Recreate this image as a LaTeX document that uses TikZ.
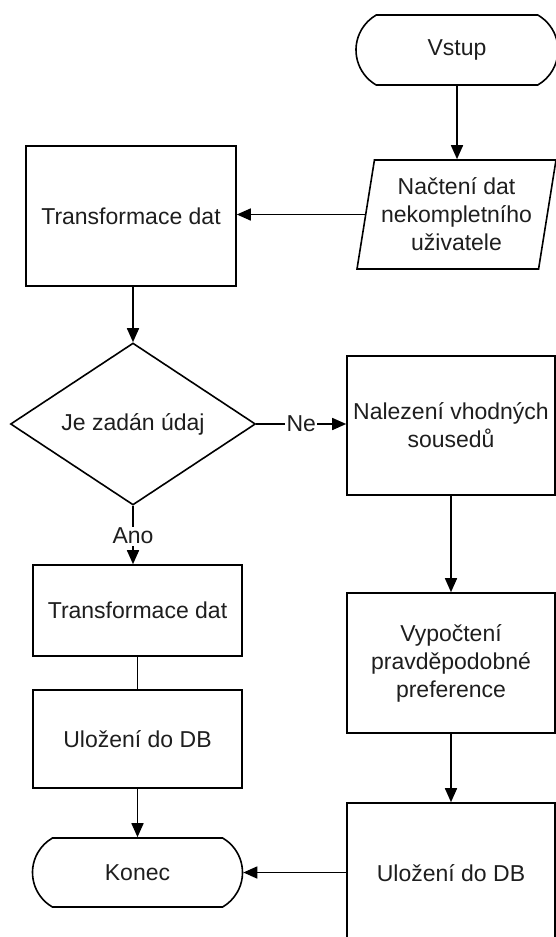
\documentclass[tikz,border=0pt]{standalone}
\usepackage{fontspec}
\setmainfont{Liberation Sans}
\usetikzlibrary{shapes.geometric,shapes.misc,arrows.meta}
\definecolor{txt}{HTML}{1E1E1E}
\begin{document}
\begin{tikzpicture}[x=1pt,y=-1pt,
  font=\fontsize{23}{28}\selectfont,
  line width=1.6pt,
  >={Triangle[length=14pt,width=12pt]},
  box/.style={draw, rectangle, inner sep=0pt, align=center, text=txt},
  term/.style={draw, rounded rectangle, rounded rectangle arc length=120, inner sep=0pt, text=txt},
  para/.style={draw, trapezium, trapezium left angle=76.6, trapezium right angle=103.4,
    trapezium stretches body, inner sep=0pt, align=center, text=txt},
  decision/.style={draw, diamond, inner sep=0pt, aspect=1.5, text=txt},
  lab/.style={fill=white, inner sep=1.5pt, text=txt},
  flow/.style={->}
]
\useasboundingbox (0,0) rectangle (556,937);
\fill[white] (0,0) rectangle (556,937);

\node[term, minimum width=202pt, minimum height=70pt] (vstup) at (457,50) {Vstup};
\node[para, minimum width=199pt, minimum height=109pt] (nacteni) at (456.5,214.5)
  {Načtení dat\\nekompletního\\uživatele};
\node[box, minimum width=210pt, minimum height=140pt] (trans1) at (131,216) {Transformace dat};
\node[decision, minimum width=245pt, minimum height=162pt] (dec) at (133,424) {Je zadán údaj};
\node[box, minimum width=208pt, minimum height=139pt] (nal) at (451,425.5) {Nalezení vhodných\\sousedů};
\node[box, minimum width=208pt, minimum height=140pt] (vyp) at (451,663) {Vypočtení\\pravděpodobné\\preference};
\node[box, minimum width=208pt, minimum height=140pt] (ulo2) at (451,873) {Uložení do DB};
\node[box, minimum width=209pt, minimum height=91pt] (trans2) at (137.5,610.5) {Transformace dat};
\node[box, minimum width=209pt, minimum height=98pt] (ulo1) at (137.5,739) {Uložení do DB};
\node[term, minimum width=210pt, minimum height=69pt] (konec) at (137.5,872.5) {Konec};

\draw[flow] (vstup.south) -- (vstup.south |- nacteni.north);
\draw[flow] (nacteni.west) -- (trans1.east |- nacteni.west);
\draw[flow] (trans1.south -| dec.north) -- (dec.north);
\draw[flow] (dec.east) -- node[lab]{Ne} (nal.west |- dec.east);
\draw[flow] (nal.south) -- (vyp.north);
\draw[flow] (vyp.south) -- (ulo2.north);
\draw[flow] (dec.south) -- node[lab, pos=0.52]{Ano} (dec.south |- trans2.north);
\draw (trans2.south) -- (ulo1.north);
\draw[flow] (ulo1.south) -- (konec.north);
\draw[flow] (ulo2.west |- konec.east) -- (konec.east);
\end{tikzpicture}
\end{document}
